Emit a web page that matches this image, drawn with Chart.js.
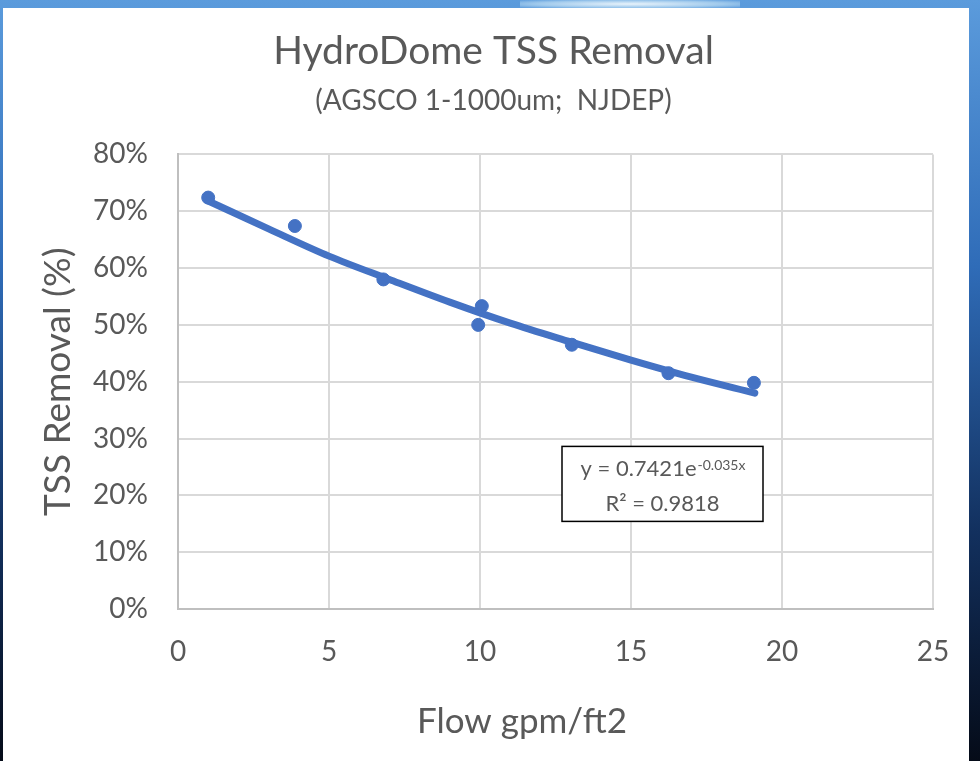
<!DOCTYPE html>
<html>
<head>
<meta charset="utf-8">
<script src="https://cdn.jsdelivr.net/npm/chart.js@4/dist/chart.umd.min.js"></script>
<style>
  html, body { margin: 0; padding: 0; }
  body {
    width: 980px; height: 761px; overflow: hidden; position: relative;
    background: linear-gradient(to bottom, #5b9bdc 0%, #2f6cb8 35%, #12305e 70%, #050b18 100%);
  }
  #glow { position: absolute; left: 520px; top: 0; width: 220px; height: 8px;
    background: radial-gradient(ellipse at center, #e8f3fb 0%, #9fc9ec 60%, rgba(91,155,220,0) 100%); }
  #frame { position: absolute; left: 3px; top: 8px; width: 966px; height: 753px; background: #ffffff; }
  canvas { display: block; }
</style>
</head>
<body>
<div id="glow"></div>
<div id="frame"><canvas id="c" width="966" height="753"></canvas></div>
<script>
// ---- data ----
const flowGpm = [1.0, 3.87, 6.8, 10.06, 9.94, 13.04, 16.24, 19.07];
const tssRemoval = [72.4, 67.4, 58.0, 53.3, 50.0, 46.5, 41.5, 39.8];
const trendFlow = [1, 3, 5, 7, 9, 11, 13, 15, 17, 19.1];
const trendRemoval = [71.8, 66.9, 62.1, 58.0, 54.0, 50.3, 47.0, 43.8, 40.8, 38.0];
const yTicks = [0, 10, 20, 30, 40, 50, 60, 70, 80];
const xTicks = [0, 5, 10, 15, 20, 25];
const titleText = 'HydroDome TSS Removal';
const subtitleText = '(AGSCO 1-1000um;  NJDEP)';
const xTitle = 'Flow gpm/ft2';
const yTitle = 'TSS Removal (%)';
const eqMain = 'y = 0.7421e';
const eqExp = '-0.035x';
const r2Text = 'R² = 0.9818';

const BLUE = '#4472C4';
const TXT = '#595959';
const FONT = 'Lato, "Open Sans", sans-serif';

const eqBox = {
  id: 'eqBox',
  afterDatasetsDraw(chart) {
    const ctx = chart.ctx, a = chart.chartArea;
    const L = a.left + 384, T = a.top + 292, W = 201, H = 75;
    ctx.save();
    ctx.fillStyle = '#ffffff';
    ctx.fillRect(L, T, W, H);
    ctx.strokeStyle = '#000000';
    ctx.lineWidth = 1.5;
    ctx.strokeRect(L, T, W, H);
    ctx.fillStyle = TXT;
    ctx.textBaseline = 'alphabetic';
    ctx.font = '22px ' + FONT;
    const w1 = ctx.measureText(eqMain).width;
    ctx.font = '14px ' + FONT;
    const w2 = ctx.measureText(eqExp).width;
    let x0 = L + (W - w1 - w2) / 2;
    ctx.font = '22px ' + FONT;
    ctx.textAlign = 'left';
    ctx.fillText(eqMain, x0, T + 30);
    ctx.font = '14px ' + FONT;
    ctx.fillText(eqExp, x0 + w1 + 1, T + 24);
    ctx.font = '22px ' + FONT;
    ctx.textAlign = 'center';
    ctx.fillText(r2Text, L + W / 2, T + 65);
    ctx.restore();
  }
};

const xTitlePlugin = {
  id: 'xTitlePlugin',
  afterDraw(chart) {
    const ctx = chart.ctx;
    ctx.save();
    ctx.fillStyle = TXT;
    ctx.font = '35px ' + FONT;
    ctx.textAlign = 'center';
    ctx.textBaseline = 'middle';
    ctx.fillText(xTitle, 519, chart.height - 39);
    ctx.restore();
  }
};

new Chart(document.getElementById('c'), {
  type: 'scatter',
  data: {
    datasets: [
      {
        label: 'Trend',
        data: trendFlow.map((x, i) => ({ x: x, y: trendRemoval[i] })),
        showLine: true,
        borderColor: BLUE,
        borderWidth: 7,
        pointRadius: 0,
        cubicInterpolationMode: 'monotone',
        borderCapStyle: 'round'
      },
      {
        label: 'TSS Removal',
        data: flowGpm.map((x, i) => ({ x: x, y: tssRemoval[i] })),
        backgroundColor: BLUE,
        borderColor: BLUE,
        pointRadius: 6.5,
        showLine: false
      }
    ]
  },
  options: {
    responsive: false,
    animation: false,
    layout: { padding: { left: 30, right: 15, top: 0, bottom: 0 } },
    plugins: {
      legend: { display: false },
      tooltip: { enabled: false },
      title: {
        display: true, text: titleText, color: TXT,
        font: { family: FONT, size: 39, weight: 'normal' },
        padding: { top: 20, bottom: 9 }
      },
      subtitle: {
        display: true, text: subtitleText, color: TXT,
        font: { family: FONT, size: 28, weight: 'normal' },
        padding: { top: 0, bottom: 37 }
      }
    },
    scales: {
      x: {
        type: 'linear', min: 0, max: 25,
        afterBuildTicks: s => { s.ticks = xTicks.map(v => ({ value: v })); },
        afterFit: s => { s.height = 152; s.paddingRight = 36; },
        grid: { color: '#d9d9d9', lineWidth: 2, drawTicks: false },
        border: { color: '#bfbfbf', width: 2 },
        ticks: { color: TXT, font: { family: FONT, size: 28 }, padding: 26, maxRotation: 0 },
        title: { display: false }
      },
      y: {
        type: 'linear', min: 0, max: 80,
        afterBuildTicks: s => { s.ticks = yTicks.map(v => ({ value: v })); },
        afterFit: s => { s.width = 145; },
        grid: { color: '#d9d9d9', lineWidth: 2, drawTicks: false },
        border: { color: '#bfbfbf', width: 2 },
        ticks: { color: TXT, font: { family: FONT, size: 28 }, padding: 30, callback: v => v + '%' },
        title: { display: true, text: yTitle, color: TXT,
          font: { family: FONT, size: 37 }, padding: { top: 3, bottom: 0 } }
      }
    }
  },
  plugins: [eqBox, xTitlePlugin]
});
</script>
</body>
</html>
